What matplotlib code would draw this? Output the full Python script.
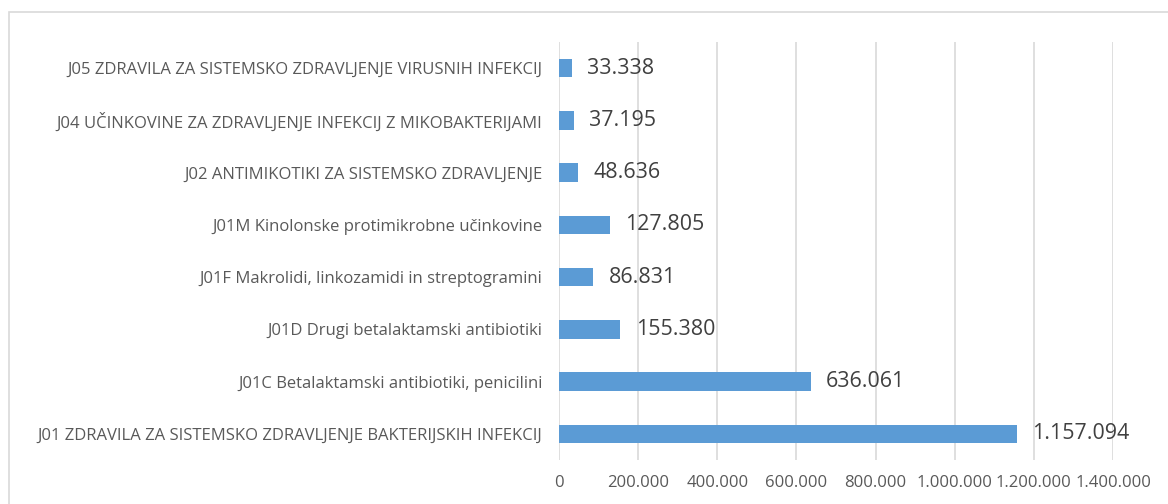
import matplotlib
matplotlib.use("Agg")
import matplotlib.pyplot as plt
from matplotlib.patches import Rectangle
from matplotlib.ticker import FuncFormatter

categories = [
    "J01 ZDRAVILA ZA SISTEMSKO ZDRAVLJENJE BAKTERIJSKIH INFEKCIJ",
    "J01C Betalaktamski antibiotiki, penicilini",
    "J01D Drugi betalaktamski antibiotiki",
    "J01F Makrolidi, linkozamidi in streptogramini",
    "J01M Kinolonske protimikrobne učinkovine",
    "J02 ANTIMIKOTIKI ZA SISTEMSKO ZDRAVLJENJE",
    "J04 UČINKOVINE ZA ZDRAVLJENJE INFEKCIJ Z MIKOBAKTERIJAMI",
    "J05 ZDRAVILA ZA SISTEMSKO ZDRAVLJENJE VIRUSNIH INFEKCIJ",
]
values = [1157094, 636061, 155380, 86831, 127805, 48636, 37195, 33338]
x_ticks = [0, 200000, 400000, 600000, 800000, 1000000, 1200000, 1400000]

def fmt(v):
    return f"{int(v):,}".replace(",", ".")

plt.rcParams['font.family'] = ['Open Sans', 'DejaVu Sans']
text_color = "#595959"

fig = plt.figure(figsize=(11.68, 5.04), dpi=100)
fig.patches.append(Rectangle((9/1168, -0.1), 1.2, 1.1 - 12/504,
                             transform=fig.transFigure, fill=False,
                             edgecolor="#D9D9D9", linewidth=1.2))
ax = fig.add_axes([559/1168, 1 - 460/504, (1113 - 559)/1168, (460 - 42)/504])

y = list(range(len(categories)))
ax.barh(y, values, height=0.35, color="#5B9BD5", zorder=3)
for yi, v in zip(y, values):
    ax.annotate(fmt(v), (v, yi), xytext=(11, 0), textcoords="offset points",
                va="center", ha="left", fontsize=15.4, color="#404040")

ax.set_xlim(0, 1400000)
ax.set_ylim(-0.5, len(categories) - 0.5)
ax.set_xticks(x_ticks)
ax.xaxis.set_major_formatter(FuncFormatter(lambda v, p: fmt(v)))
ax.set_yticks(y)
ax.set_yticklabels(categories)
ax.tick_params(axis="x", length=0, pad=11, labelsize=12, labelcolor=text_color)
ax.tick_params(axis="y", length=0, pad=12, labelsize=12, labelcolor=text_color)
ax.grid(axis="x", color="#D9D9D9", linewidth=1.2, zorder=0)
for s in ax.spines.values():
    s.set_visible(False)

fig.savefig("out.png", dpi=100)
